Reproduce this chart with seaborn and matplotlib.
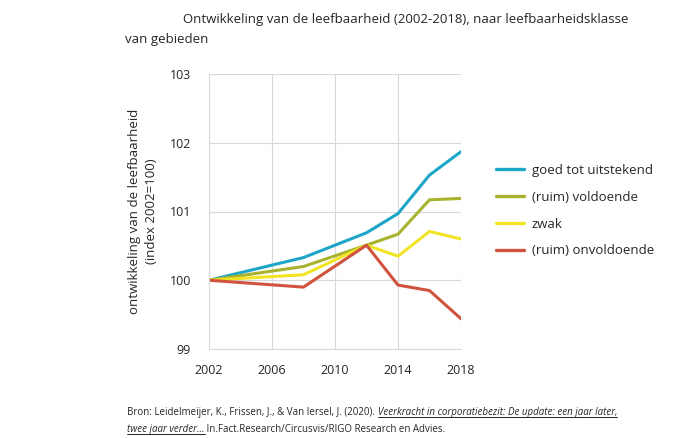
import matplotlib
matplotlib.use("Agg")
import matplotlib.pyplot as plt
from matplotlib.lines import Line2D
import pandas as pd
import seaborn as sns

# values (index 2002=100)
years = [2002, 2008, 2012, 2014, 2016, 2018]
goed = [100.0, 100.33, 100.69, 100.97, 101.53, 101.87]
voldoende = [100.0, 100.20, 100.51, 100.67, 101.17, 101.19]
zwak = [100.0, 100.08, 100.51, 100.35, 100.71, 100.60]
onvoldoende = [100.0, 99.90, 100.51, 99.93, 99.85, 99.44]

labels = ["goed tot uitstekend", "(ruim) voldoende", "zwak", "(ruim) onvoldoende"]
colors = ["#1DA6C8", "#A8B22C", "#F2E424", "#D0533D"]

x_ticks = [2002, 2006, 2010, 2014, 2018]
y_ticks = [99, 100, 101, 102, 103]

rows = []
for name, vals in zip(labels, [goed, voldoende, zwak, onvoldoende]):
    for yr, v in zip(years, vals):
        rows.append({"jaar": yr, "index": v, "klasse": name})
df = pd.DataFrame(rows)

sns.set_theme(style="white")
plt.rcParams["font.family"] = ["Open Sans", "DejaVu Sans"]

fig = plt.figure(figsize=(6.76, 4.38), dpi=100)
W, H = 676, 438
ax = fig.add_axes([209 / W, 1 - 349 / H, (461 - 209) / W, (349 - 74) / H])

sns.lineplot(
    data=df, x="jaar", y="index", hue="klasse", hue_order=labels,
    palette=colors, linewidth=2.2, ax=ax, legend=False,
)

ax.set_xlim(2002, 2018)
ax.set_ylim(99, 103)
ax.set_xticks(x_ticks)
ax.set_yticks(y_ticks)
ax.tick_params(axis="x", labelsize=9, length=0, pad=11)
ax.tick_params(axis="y", labelsize=9, length=0, pad=13)
ax.grid(True, color="#d9d9d9", linewidth=0.8)
for side in ["top", "right"]:
    ax.spines[side].set_visible(False)
for side in ["left", "bottom"]:
    ax.spines[side].set_color("#d9d9d9")
    ax.spines[side].set_linewidth(0.8)
ax.set_xlabel("")
ax.set_ylabel("ontwikkeling van de leefbaarheid\n(index 2002=100)", fontsize=9.5, labelpad=8, linespacing=1.45)

handles = [Line2D([], [], color=c, linewidth=2.4) for c in colors]
fig.legend(
    handles, labels, loc="upper left", bbox_to_anchor=(484 / W, 1 - 152 / H),
    frameon=False, fontsize=9.5, handlelength=2.1, labelspacing=1.05, handletextpad=0.6,
)

# title (two lines, Word-style indent)
fig.text(183 / W, 1 - 19 / H, "Ontwikkeling van de leefbaarheid (2002-2018), naar leefbaarheidsklasse",
         fontsize=9.5, va="center", ha="left")
fig.text(125 / W, 1 - 39 / H, "van gebieden", fontsize=9.5, va="center", ha="left")

# source line with italic underlined title
fig.canvas.draw()
renderer = fig.canvas.get_renderer()
fs = 7


def put(xpx, ypx, s, underline=False, **kw):
    t = fig.text(xpx / W, 1 - ypx / H, s, fontsize=fs, va="baseline", ha="left", **kw)
    bb = t.get_window_extent(renderer)
    if underline:
        y0 = (1 - ypx / H) - 2 / H
        fig.add_artist(Line2D([bb.x0 / W, bb.x1 / W], [y0, y0], color="black", linewidth=0.6))
    return bb.x1


x1 = put(127, 415, "Bron: Leidelmeijer, K., Frissen, J., & Van Iersel, J. (2020). ")
put(x1, 415, "Veerkracht in corporatiebezit: De update: een jaar later,", underline=True, style="italic")
x2 = put(127, 432, "twee jaar verder...", underline=True, style="italic")
put(x2, 432, " In.Fact.Research/Circusvis/RIGO Research en Advies.")

fig.savefig("out.png", dpi=100, facecolor="white")
